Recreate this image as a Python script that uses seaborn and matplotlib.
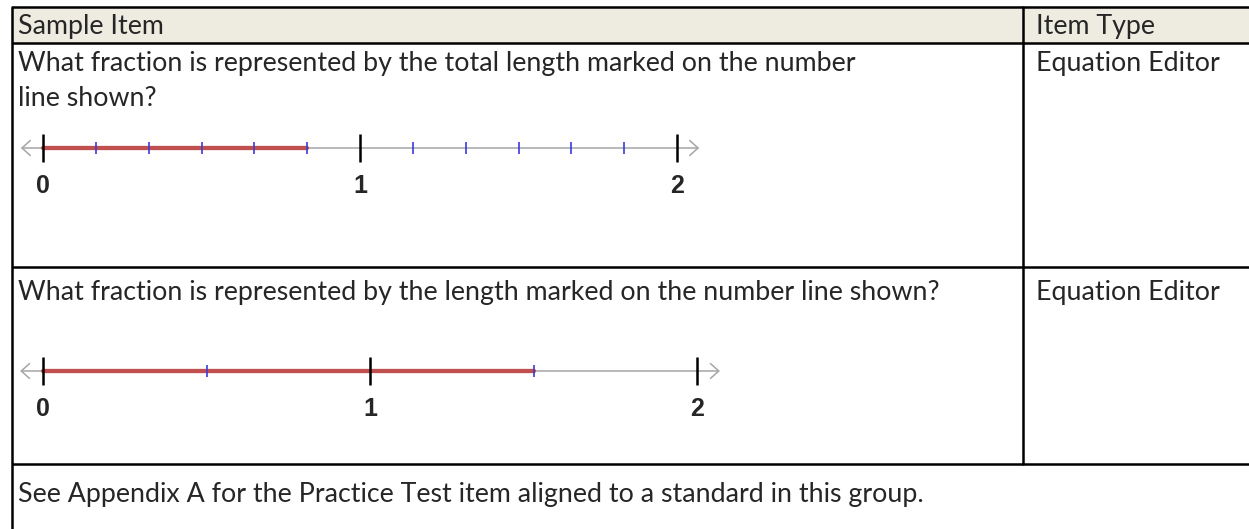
'''
Sample item table with two number-line questions.
'''
import matplotlib.pyplot as plt
import seaborn as sns

W, H = 1249, 529

header = ['Sample Item', 'Item Type']
question_1 = ['What fraction is represented by the total length marked on the number',
              'line shown?']
question_2 = ['What fraction is represented by the length marked on the number line shown?']
item_types = ['Equation Editor', 'Equation Editor']
footer = 'See Appendix A for the Practice Test item aligned to a standard in this group.'

# number line values
whole_ticks = [0, 1, 2]
whole_labels = ['0', '1', '2']
nl1_part_ticks = [1/6, 2/6, 3/6, 4/6, 5/6, 7/6, 8/6, 9/6, 10/6, 11/6]
nl1_marked = [0, 5/6]
nl2_part_ticks = [1/2, 3/2]
nl2_marked = [0, 3/2]

sns.set_theme(style='white')
plt.rcParams['font.family'] = ['Lato', 'DejaVu Sans']

fig = plt.figure(figsize=(W / 100, H / 100), dpi=100)
ax = fig.add_axes([0, 0, 1, 1])
ax.set_xlim(0, W)
ax.set_ylim(H, 0)
ax.set_axis_off()

# table grid
left, col_x = 12, 1023
row_y = [7, 43, 267, 464]
ax.fill_between([left, W], row_y[0], row_y[1], color='#eeece1', zorder=0)
lw = 1.8
for y in row_y:
    ax.plot([left, W], [y, y], color='black', lw=lw, solid_capstyle='butt')
ax.plot([left, left], [row_y[0], H], color='black', lw=lw)
ax.plot([col_x, col_x], [row_y[0], row_y[3]], color='black', lw=lw)

fs = 19.3
tx, tx2 = 18, 1036
ax.text(tx, 34, header[0], fontsize=fs, va='baseline')
ax.text(tx2, 34, header[1], fontsize=fs, va='baseline')
for i, line in enumerate(question_1):
    ax.text(tx, 71 + 35 * i, line, fontsize=fs, va='baseline')
ax.text(tx2, 71, item_types[0], fontsize=fs, va='baseline')
ax.text(tx, 300, question_2[0], fontsize=fs, va='baseline')
ax.text(tx2, 300, item_types[1], fontsize=fs, va='baseline')
ax.text(tx, 502, footer, fontsize=fs, va='baseline')


def number_line(zero_px, unit_px, line_y, part_ticks, marked):
    pad = 0.12
    x0 = zero_px - pad * unit_px
    w = (2 + 2 * pad) * unit_px
    top, bottom = 25, 60
    nax = fig.add_axes([x0 / W, 1 - (line_y + bottom) / H, w / W, (top + bottom) / H])
    nax.set_xlim(-pad, 2 + pad)
    nax.set_ylim(bottom, -top)
    nax.set_axis_off()
    ext = 0.07
    nax.annotate('', xy=(2 + ext, 0), xytext=(-ext, 0),
                 arrowprops=dict(arrowstyle='<->,head_length=0.5,head_width=0.45',
                                 color='#a6a6a6', lw=1.1, shrinkA=0, shrinkB=0))
    sns.lineplot(x=marked, y=[0] * len(marked), color='#c0504d', linewidth=3.1,
                 ax=nax, zorder=4)
    nax.vlines(part_ticks, -6, 6, color='#3b3bdb', lw=1.2, zorder=5)
    nax.vlines(whole_ticks, -14, 14, color='black', lw=1.8, zorder=5)
    for v, lab in zip(whole_ticks, whole_labels):
        nax.text(v, 38, lab, fontsize=18, fontweight='bold', family='Liberation Sans',
                 ha='center', va='center')


number_line(43, 317, 148, nl1_part_ticks, nl1_marked)
number_line(43, 327, 371, nl2_part_ticks, nl2_marked)

fig.savefig('out.png', dpi=100)
